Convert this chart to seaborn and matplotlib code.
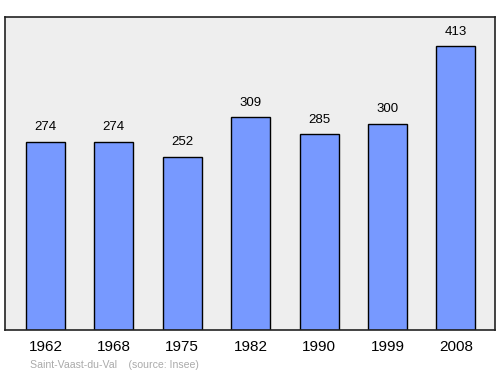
import matplotlib
matplotlib.use("Agg")
import matplotlib.pyplot as plt
import seaborn as sns
import pandas as pd

years = ["1962", "1968", "1975", "1982", "1990", "1999", "2008"]
population = [274, 274, 252, 309, 285, 300, 413]

sns.set_style("white")
plt.rcParams['font.family'] = ['Liberation Sans', 'DejaVu Sans']

df = pd.DataFrame({"year": years, "pop": population})

fig = plt.figure(figsize=(5, 3.74), dpi=100)
ax = fig.add_axes([5/500, 1 - 330/374, 490/500, 313/374])
ax.set_facecolor("#eeeeee")
sns.barplot(data=df, x="year", y="pop", ax=ax, color="#7799ff", saturation=1,
            width=0.57, edgecolor="black", linewidth=1)
ax.set_xlim(-0.59, 6.57)
ax.set_ylim(0, 455)
for i, v in enumerate(population):
    ax.annotate(str(v), (i, v), xytext=(0, 6), textcoords="offset points",
                ha="center", va="bottom", fontsize=9.5, color="black")
ax.set_yticks([])
ax.set_xlabel("")
ax.set_ylabel("")
ax.tick_params(axis="x", length=0, labelsize=11, pad=7, labelcolor="black")
for s in ax.spines.values():
    s.set_color("#222222")
    s.set_linewidth(1.2)
fig.text(30/500, 1 - 365/374, "Saint-Vaast-du-Val    (source: Insee)", fontsize=7.6,
         color="#aaaaaa", va="center", ha="left")
fig.savefig("out.png", dpi=100)
